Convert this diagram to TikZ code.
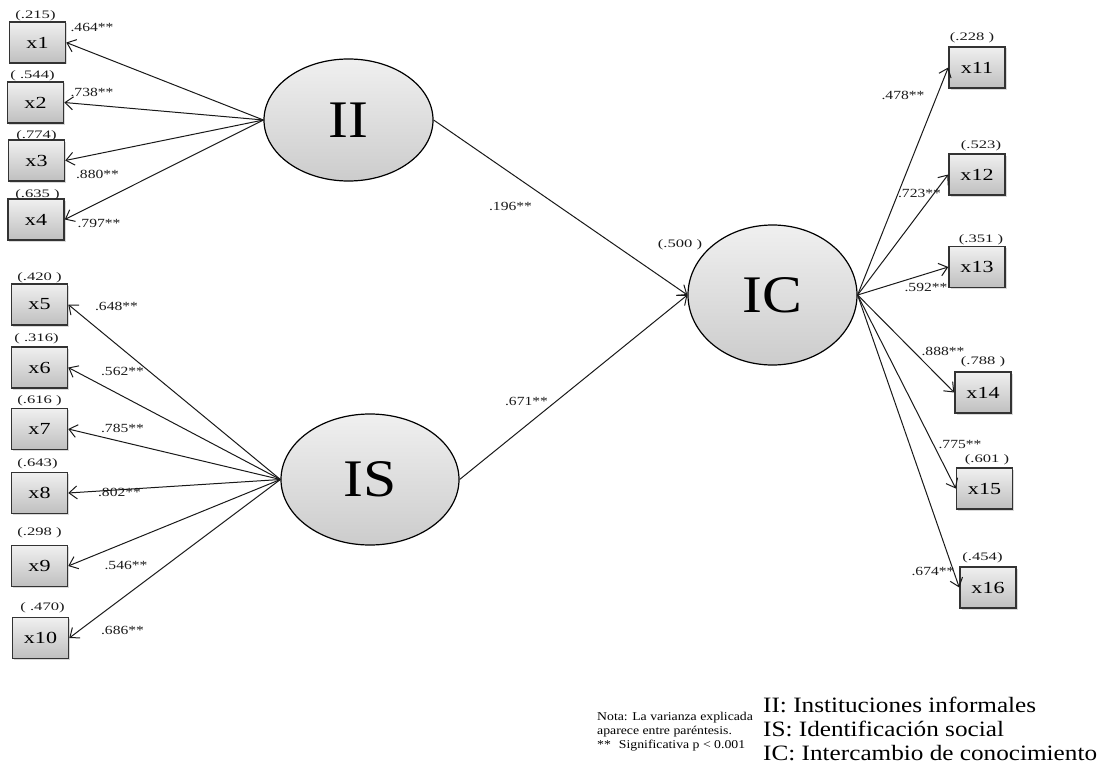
\documentclass[tikz,border=0pt]{standalone}
\usepackage{fontspec}
\setmainfont{Liberation Serif}
\usetikzlibrary{arrows.meta,shapes.geometric,shadows}
\newcommand\hstr[2]{\scalebox{#1}[1]{#2}}
\newcommand\vr[1]{\hstr{1.45}{#1}}
\newcommand\ld[1]{\hstr{1.25}{#1}}
\begin{document}
\begin{tikzpicture}[x=1bp,y=-1bp,
  obs/.style={rectangle, draw=black!80, line width=1.5bp, top color=gray!12, bottom color=gray!50,
    minimum width=56bp, minimum height=41bp, inner sep=0pt, font=\fontsize{17}{17}\selectfont,
    drop shadow={opacity=0.3, shadow xshift=1.5bp, shadow yshift=-1.5bp}},
  lat/.style={ellipse, draw=black, line width=1.2bp, top color=gray!12, bottom color=gray!40,
    inner sep=0pt, font=\fontsize{53}{53}\selectfont},
  arr/.style={-{Straight Barb[length=8bp,width=13bp]}, line width=1bp, draw=black!90},
  vlbl/.style={inner sep=0pt, text=black!90, font=\fontsize{11.5}{11.5}\selectfont},
  lbl/.style={inner sep=0pt, text=black!90, font=\fontsize{12.5}{12.5}\selectfont},
  note/.style={inner sep=0pt, anchor=base west, font=\fontsize{12}{12}\selectfont},
  legend/.style={inner sep=0pt, anchor=base west, font=\fontsize{22}{22}\selectfont},
]
\useasboundingbox (0,0) rectangle (1100,772);
% latent variables
\node[lat, minimum width=169bp, minimum height=122bp] (II) at (348.5,120) {\hstr{1.13}{II}};
\node[lat, minimum width=178bp, minimum height=131bp] (IS) at (370,479.5) {\hstr{1.13}{IS}};
\node[lat, minimum width=169bp, minimum height=140bp] (IC) at (772.5,295) {\hstr{1.13}{IC}};
% observed left
\node[obs] (x1) at (37.5,42.5) {\hstr{1.3}{x1}};
\node[obs] (x2) at (35.5,102.5) {\hstr{1.3}{x2}};
\node[obs] (x3) at (36.5,160.5) {\hstr{1.3}{x3}};
\node[obs] (x4) at (36,219.5) {\hstr{1.3}{x4}};
\node[obs] (x5) at (39.5,304.5) {\hstr{1.3}{x5}};
\node[obs] (x6) at (39.5,367.5) {\hstr{1.3}{x6}};
\node[obs] (x7) at (39.5,429) {\hstr{1.3}{x7}};
\node[obs] (x8) at (39.5,493) {\hstr{1.3}{x8}};
\node[obs] (x9) at (39.5,566) {\hstr{1.3}{x9}};
\node[obs] (x10) at (40.5,638) {\hstr{1.3}{x10}};
% observed right
\node[obs] (x11) at (977,67.5) {\hstr{1.3}{x11}};
\node[obs] (x12) at (977,174.5) {\hstr{1.3}{x12}};
\node[obs] (x13) at (977,267) {\hstr{1.3}{x13}};
\node[obs] (x14) at (983,392.5) {\hstr{1.3}{x14}};
\node[obs] (x15) at (984.5,488.5) {\hstr{1.3}{x15}};
\node[obs] (x16) at (988,587.5) {\hstr{1.3}{x16}};
% arrows
\foreach \t in {x1,x2,x3,x4} \draw[arr] (II.west) -- (\t.east);
\foreach \t in {x5,x6,x7,x8,x9,x10} \draw[arr] (IS.west) -- (\t.east);
\foreach \t in {x11,x12,x13,x14,x15,x16} \draw[arr] (IC.east) -- (\t.west);
\draw[arr] (II.east) -- (IC.west);
\draw[arr] (IS.east) -- (IC.west);
% variance labels
\node[vlbl] (v1) at (35.5,15.5) {\vr{(.215)}};
\node[vlbl] (v2) at (32.5,75.5) {\vr{( .544)}};
\node[vlbl] (v3) at (36.5,136) {\vr{(.774)}};
\node[vlbl] (v4) at (37.5,194.5) {\vr{(.635 )}};
\node[vlbl] (v5) at (39.5,277.5) {\vr{(.420 )}};
\node[vlbl] (v6) at (36.5,339) {\vr{( .316)}};
\node[vlbl] (v7) at (39.5,400.5) {\vr{(.616 )}};
\node[vlbl] (v8) at (37.5,463.5) {\vr{(.643)}};
\node[vlbl] (v9) at (39.5,533) {\vr{(.298 )}};
\node[vlbl] (v10) at (42.5,607.5) {\vr{( .470)}};
\node[vlbl] (v11) at (972,38) {\vr{(.228 )}};
\node[vlbl] (v12) at (981,146) {\vr{(.523)}};
\node[vlbl] (v13) at (981,239.5) {\vr{(.351 )}};
\node[vlbl] (v14) at (983,361.5) {\vr{(.788 )}};
\node[vlbl] (v15) at (987,460) {\vr{(.601 )}};
\node[vlbl] (v16) at (982.5,557.5) {\vr{(.454)}};
\node[vlbl] (vIC) at (680,245) {\vr{(.500 )}};
% loadings
\node[lbl] (l1) at (92,27.5) {\ld{.464**}};
\node[lbl] (l2) at (92,92) {\ld{.738**}};
\node[lbl] (l3) at (97.5,174) {\ld{.880**}};
\node[lbl] (l4) at (99,223.5) {\ld{.797**}};
\node[lbl] (l5) at (116.5,306.5) {\ld{.648**}};
\node[lbl] (l6) at (122.5,371.5) {\ld{.562**}};
\node[lbl] (l7) at (122.5,428) {\ld{.785**}};
\node[lbl] (l8) at (119.5,492) {\ld{.802**}};
\node[lbl] (l9) at (126,565) {\ld{.546**}};
\node[lbl] (l10) at (122.5,630) {\ld{.686**}};
\node[lbl] (l11) at (903,95) {\ld{.478**}};
\node[lbl] (l12) at (919.5,193) {\ld{.723**}};
\node[lbl] (l13) at (926,287) {\ld{.592**}};
\node[lbl] (l14) at (943,351) {\ld{.888**}};
\node[lbl] (l15) at (960,445) {\ld{.775**}};
\node[lbl] (l16) at (933,571) {\ld{.674**}};
\node[lbl] (lII) at (510.5,206.5) {\ld{.196**}};
\node[lbl] (lIS) at (526.5,401.5) {\ld{.671**}};
% notes
\node[note] (n1) at (597,720) {\hstr{1.15}{Nota: La varianza explicada}};
\node[note] (n2) at (597,734) {\hstr{1.15}{aparece entre paréntesis.}};
\node[note] (n3) at (597,748) {\hstr{1.15}{**\hspace{7bp}Significativa p < 0.001}};
% legend
\node[legend] (g1) at (763,712) {\hstr{1.15}{II: Instituciones informales}};
\node[legend] (g2) at (763,736) {\hstr{1.15}{IS: Identificación social}};
\node[legend] (g3) at (763,760) {\hstr{1.15}{IC: Intercambio de conocimiento}};
\end{tikzpicture}
\end{document}
